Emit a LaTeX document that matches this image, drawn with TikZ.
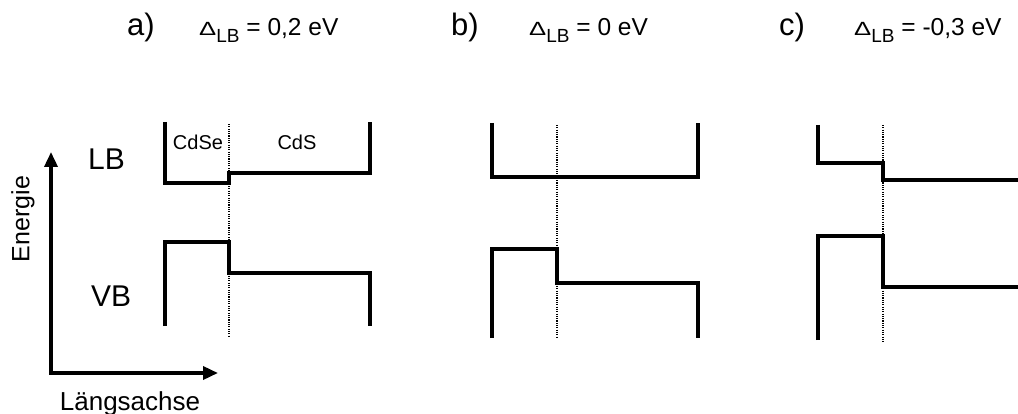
\documentclass[tikz,border=0pt]{standalone}
\usepackage{fontspec}
\setmainfont{Liberation Sans}
\usepackage{graphicx}
\usetikzlibrary{arrows.meta}
\newcommand{\fsz}[1]{\fontsize{#1}{#1}\selectfont}
\newcommand{\dlb}[1]{{\fsz{24.5}\scalebox{1.05}[0.78]{Δ}\raisebox{-6.5pt}{\fsz{19}LB} = #1 eV}}
\begin{document}
\begin{tikzpicture}[x=1pt,y=-1pt,
  band/.style={line width=4pt,line join=miter},
  iface/.style={line width=1.2pt,dash pattern=on 1.1pt off 1.2pt},
  axis/.style={line width=3.5pt,{Triangle[length=15pt,width=13pt]}-{Triangle[length=15pt,width=13pt]}},
  lbl/.style={inner sep=0pt,anchor=base},
  title/.style={inner sep=0pt,anchor=base,font=\fsz{31}},
  delta/.style={inner sep=0pt,anchor=base west},
  mat/.style={inner sep=0pt,font=\fsz{20}}]
\useasboundingbox (0,0) rectangle (1018,414);
% axes
\coordinate (ytip) at (51,152);
\coordinate (orig) at (51,373);
\coordinate (xtip) at (218,373);
\draw[axis] (ytip) -- (orig) -- (xtip);
\node[inner sep=0pt,rotate=90,font=\fsz{25}] (energie) at (23,219) {Energie};
\node[lbl,font=\fsz{26}] (laengs) at (130,410) {Längsachse};
\node[inner sep=0pt,anchor=base west,font=\fsz{30}] (lb) at (88,170) {LB};
\node[inner sep=0pt,anchor=base west,font=\fsz{30}] (vb) at (91,307) {VB};
% titles
\node[title] (ta) at (141,36) {a)};
\node[delta] (da) at (199,36) {\dlb{0,2}};
\node[title] (tb) at (465,36) {b)};
\node[delta] (db) at (529,36) {\dlb{0}};
\node[title] (tc) at (792,36) {c)};
\node[delta] (dc) at (854,36) {\dlb{-0,3}};
% panel a
\draw[iface] (229,124) -- (229,337);
\draw[band] (165,122) -- (165,183) -- (229,183) -- (229,173) -- (370,173) -- (370,122);
\draw[band] (165,326) -- (165,242) -- (229,242) -- (229,273) -- (370,273) -- (370,326);
\node[mat] (cdse) at (198,142) {CdSe};
\node[mat] (cds) at (297,142) {CdS};
% panel b
\draw[iface] (557,125) -- (557,337);
\draw[band] (492,123) -- (492,177) -- (698,177) -- (698,123);
\draw[band] (492,338) -- (492,249) -- (557,249) -- (557,283) -- (698,283) -- (698,338);
% panel c
\draw[iface] (883,125) -- (883,342);
\draw[band] (818,125) -- (818,163) -- (883,163) -- (883,180) -- (1020,180);
\draw[band] (818,340) -- (818,236) -- (883,236) -- (883,287) -- (1020,287);
\end{tikzpicture}
\end{document}
